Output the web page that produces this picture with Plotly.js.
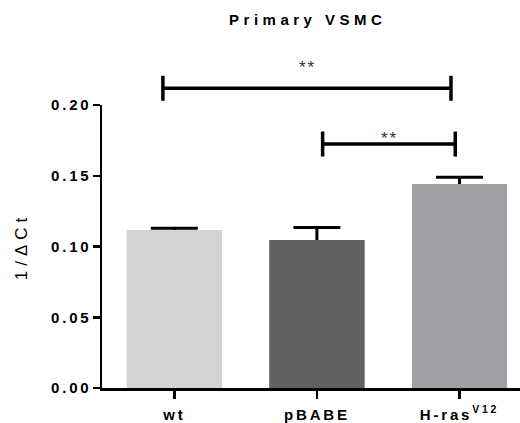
<!DOCTYPE html>
<html>
<head>
<meta charset="utf-8">
<script src="https://cdn.plot.ly/plotly-3.0.1.min.js"></script>
<style>
  html, body { margin: 0; padding: 0; background: #fff; }
  #chart .gtitle { letter-spacing: 4.5px; }
  #chart .ytitle { letter-spacing: 5px; }
  #chart .xtick text, #chart .ytick text { letter-spacing: 2.8px; }
  #chart .annotation-text { letter-spacing: 2px; }
</style>
</head>
<body>
<div id="chart" style="width:520px;height:423px;"></div>
<script>
// ---- data ----
const categories = ['wt', 'pBABE', 'H-ras<sup>V12</sup>'];
const means = [0.1117, 0.1046, 0.1442];
const sem = [0.0012, 0.0089, 0.0047];
const barColors = ['#d3d3d3', '#616161', '#a09fa4'];
const yTickVals = [0, 0.05, 0.10, 0.15, 0.20];
const yTickText = ['0.00', '0.05', '0.10', '0.15', '0.20'];
// significance brackets (category positions / data heights)
const bracketX0 = [-0.08, 1.04];
const bracketX1 = [1.94, 1.97];
const bracketY = [0.2118, 0.1724];
const bracketLabelY = [0.2283, 0.1783];
const bracketLabels = ['**', '**'];

// ---- layout constants ----
const W = 520, H = 423;
const M = {l: 102, r: 0, t: 105, b: 35};
const plotH = H - M.t - M.b;
const yMax = 0.20;
const endPx = 12.5;
const FONT = 'Liberation Sans, Arial, Helvetica, sans-serif';

const xIdx = categories.map((c, i) => i);

const traces = [
  {
    type: 'bar', x: xIdx, y: means, width: 0.666,
    marker: {color: barColors, line: {width: 0}},
    error_y: {type: 'data', array: sem, symmetric: true, visible: true,
              color: '#000', thickness: 3, width: 23.5},
    hoverinfo: 'skip'
  },
  {
    type: 'bar', x: xIdx, y: means, width: 0.666,
    marker: {color: barColors, line: {width: 0}},
    hoverinfo: 'skip'
  }
];

const shapes = [];
const annotations = [];
for (let i = 0; i < bracketX0.length; i++) {
  const yp = bracketY[i] / yMax;
  const dy = endPx / plotH;
  const ln = {color: '#000', width: 3.5};
  shapes.push({type: 'line', xref: 'x', yref: 'paper', x0: bracketX0[i], x1: bracketX1[i], y0: yp, y1: yp, line: ln});
  shapes.push({type: 'line', xref: 'x', yref: 'paper', x0: bracketX0[i], x1: bracketX0[i], y0: yp - dy, y1: yp + dy, line: ln});
  shapes.push({type: 'line', xref: 'x', yref: 'paper', x0: bracketX1[i], x1: bracketX1[i], y0: yp - dy, y1: yp + dy, line: ln});
  annotations.push({
    xref: 'x', yref: 'paper', x: (bracketX0[i] + bracketX1[i]) / 2, y: bracketLabelY[i] / yMax,
    text: bracketLabels[i], showarrow: false, xanchor: 'center', yanchor: 'middle',
    xshift: 1, yshift: -3,
    font: {family: FONT, size: 17, color: '#333'}
  });
}

const layout = {
  width: W, height: H,
  margin: M,
  paper_bgcolor: '#fff', plot_bgcolor: '#fff',
  showlegend: false,
  barmode: 'overlay',
  title: {
    text: '<b>Primary VSMC</b>',
    font: {family: FONT, size: 15, color: '#000'},
    xref: 'paper', x: (305.5 + 2.25 - M.l) / (W - M.l - M.r), xanchor: 'center',
    yref: 'container', y: 1 - 20 / H, yanchor: 'middle'
  },
  xaxis: {
    range: [-0.507, 2.424],
    tickmode: 'array', tickvals: xIdx, ticktext: categories,
    showline: true, linecolor: '#000', linewidth: 2.5,
    ticks: 'outside', ticklen: 8, tickwidth: 2.5, tickcolor: '#000',
    tickfont: {family: FONT, size: 15, color: '#000', weight: 'bold'},
    ticklabelstandoff: 3,
    showgrid: false, zeroline: false, fixedrange: true
  },
  yaxis: {
    range: [0, yMax],
    tickmode: 'array', tickvals: yTickVals, ticktext: yTickText,
    showline: true, linecolor: '#000', linewidth: 2.5,
    ticks: 'outside', ticklen: 7, tickwidth: 2.5, tickcolor: '#000',
    tickfont: {family: FONT, size: 15, color: '#000', weight: 'bold'},
    ticklabelstandoff: -2,
    showgrid: false, zeroline: false, fixedrange: true,
    title: {text: '1/ΔCt', font: {family: FONT, size: 17, color: '#000'}, standoff: 31}
  },
  shapes: shapes,
  annotations: annotations
};

Plotly.newPlot('chart', traces, layout, {displayModeBar: false, staticPlot: true});
</script>
</body>
</html>
